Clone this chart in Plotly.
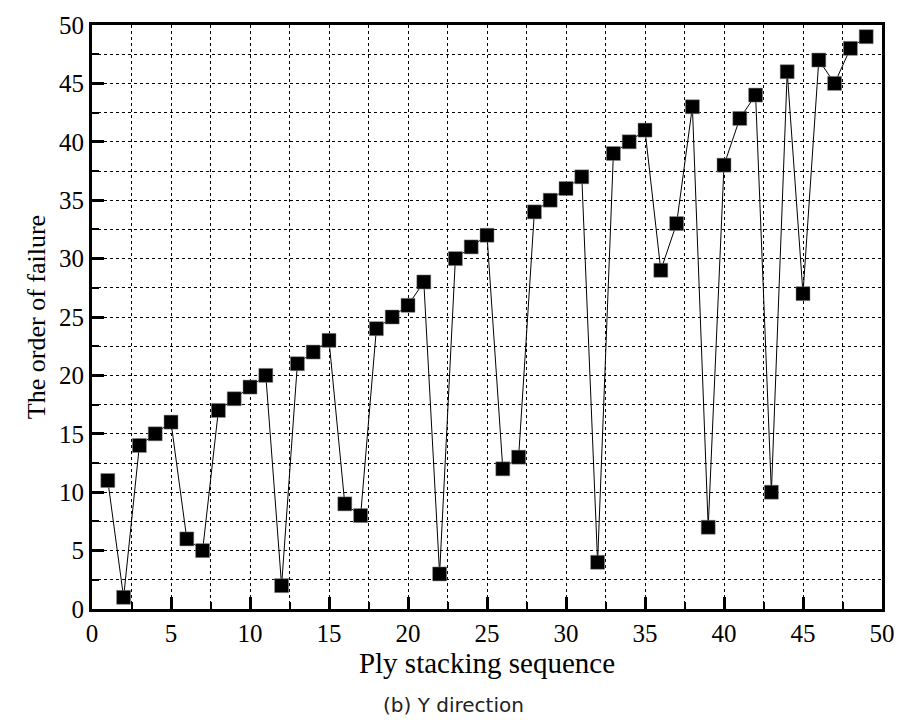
import plotly.graph_objects as go

ply_sequence = list(range(1, 50))
failure_order = [11, 1, 14, 15, 16, 6, 5, 17, 18, 19, 20, 2, 21, 22, 23, 9, 8, 24, 25, 26,
                 28, 3, 30, 31, 32, 12, 13, 34, 35, 36, 37, 4, 39, 40, 41, 29, 33, 43, 7, 38,
                 42, 44, 10, 46, 27, 47, 45, 48, 49]
tick_vals = [0, 5, 10, 15, 20, 25, 30, 35, 40, 45, 50]
axis_min, axis_max, minor_step = 0, 50, 2.5

SERIF = "Liberation Serif"
tick_text = ["<span style=\"font-family:'Liberation Serif', serif; font-size:25px\">%d</span>" % v
             for v in tick_vals]

fig = go.Figure()
fig.add_trace(go.Scatter(
    x=ply_sequence, y=failure_order, mode="lines+markers",
    line=dict(color="black", width=1),
    marker=dict(symbol="square", size=14, color="black", line=dict(color="#888", width=0.5)),
    showlegend=False, cliponaxis=False,
))

axis_common = dict(
    range=[axis_min, axis_max], tickmode="array", tickvals=tick_vals, ticktext=tick_text,
    ticks="inside", ticklen=12, tickwidth=2.5, tickcolor="black",
    showline=True, linecolor="black", linewidth=3, mirror=True,
    showgrid=True, gridcolor="black", gridwidth=1, griddash="dot",
    zeroline=False,
    tickfont=dict(family=SERIF, size=25, color="black"),
    minor=dict(dtick=minor_step, tick0=axis_min, ticks="inside", ticklen=7, tickwidth=2,
               tickcolor="black", showgrid=True, gridcolor="black", gridwidth=1, griddash="dot"),
)

fig.update_xaxes(**axis_common,
                 title=dict(text="Ply stacking sequence", standoff=2,
                            font=dict(family=SERIF, size=29, color="black")))
fig.update_yaxes(**axis_common,
                 title=dict(text="The order of failure", standoff=6,
                            font=dict(family=SERIF, size=26, color="black")))

fig.add_annotation(text="(b) Y direction", xref="paper", yref="paper", x=0.458, y=-0.14,
                   xanchor="center", yanchor="top", showarrow=False,
                   font=dict(family="DejaVu Sans", size=20, color="#222"))

fig.update_layout(
    width=907, height=720,
    margin=dict(l=92, r=16, t=20, b=111),
    plot_bgcolor="white", paper_bgcolor="white",
    font=dict(family=SERIF, size=25, color="black"),
)

fig.write_html("out.html", config={"displayModeBar": False},
               post_script="document.body.style.margin='0';")
